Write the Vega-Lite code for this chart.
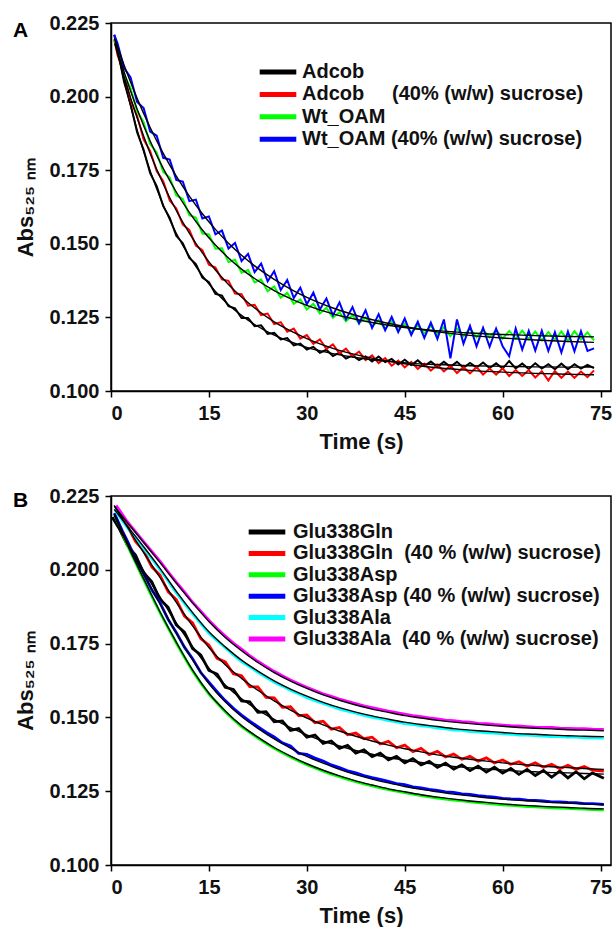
{
"$schema": "https://vega.github.io/schema/vega-lite/v6.json",
"padding": {"left": 12, "top": 12, "right": 0, "bottom": 0},
"config": {
 "font": "Liberation Sans",
 "view": {"stroke": "#000", "strokeWidth": 1.5},
 "axis": {"labelFont": "Liberation Sans", "labelFontSize": 20, "labelFontWeight": "bold", "labelColor": "#111", "titleFont": "Liberation Sans", "titleFontSize": 22, "titleFontWeight": "bold", "titleColor": "#111", "domainColor": "#000", "domainWidth": 1.5, "tickColor": "#000", "tickWidth": 1.5, "tickSize": 6, "grid": false},
 "axisX": {"labelPadding": 6, "titlePadding": 8},
 "axisY": {"labelPadding": 6, "titlePadding": 11},
 "legend": {"orient": "none", "symbolType": "stroke", "symbolStrokeWidth": 5, "symbolSize": 1340, "labelFont": "Liberation Sans", "labelFontSize": 20, "labelFontWeight": "bold", "labelColor": "#111", "clipHeight": 20, "labelLimit": 500, "labelOffset": 3}
},
"resolve": {"scale": {"color": "independent"}, "legend": {"color": "independent"}},
"spacing": 32,
"datasets": {
 "aTrace": [
  {"s":"a","t":0.5,"v":0.221},{"s":"a","t":1,"v":0.2161},{"s":"a","t":2,"v":0.2050},{"s":"a","t":3,"v":0.1974},{"s":"a","t":4,"v":0.1879},{"s":"a","t":5,"v":0.1819},{"s":"a","t":6,"v":0.1740},{"s":"a","t":7,"v":0.1696},{"s":"a","t":8,"v":0.1628},{"s":"a","t":9,"v":0.1588},{"s":"a","t":10,"v":0.1527},{"s":"a","t":11,"v":0.1502},{"s":"a","t":12,"v":0.1452},{"s":"a","t":13,"v":0.1431},{"s":"a","t":14,"v":0.1385},{"s":"a","t":15,"v":0.1370},{"s":"a","t":16,"v":0.1330},{"s":"a","t":17,"v":0.1324},{"s":"a","t":18,"v":0.1288},{"s":"a","t":19,"v":0.1281},{"s":"a","t":20,"v":0.1248},{"s":"a","t":21,"v":0.1248},{"s":"a","t":22,"v":0.1220},{"s":"a","t":23,"v":0.1223},{"s":"a","t":24,"v":0.1194},{"s":"a","t":25,"v":0.1198},{"s":"a","t":26,"v":0.1175},{"s":"a","t":27,"v":0.1180},{"s":"a","t":28,"v":0.1155},{"s":"a","t":29,"v":0.1161},{"s":"a","t":30,"v":0.1141},{"s":"a","t":31,"v":0.1150},{"s":"a","t":32,"v":0.1130},{"s":"a","t":33,"v":0.1140},{"s":"a","t":34,"v":0.1119},{"s":"a","t":35,"v":0.1130},{"s":"a","t":36,"v":0.1110},{"s":"a","t":37,"v":0.1121},{"s":"a","t":38,"v":0.1105},{"s":"a","t":39,"v":0.1117},{"s":"a","t":40,"v":0.1100},{"s":"a","t":41,"v":0.1117},{"s":"a","t":42,"v":0.1098},{"s":"a","t":43,"v":0.1109},{"s":"a","t":44,"v":0.1090},{"s":"a","t":45,"v":0.1106},{"s":"a","t":46,"v":0.1088},{"s":"a","t":47,"v":0.1104},{"s":"a","t":48,"v":0.1085},{"s":"a","t":49,"v":0.1100},{"s":"a","t":50,"v":0.1082},{"s":"a","t":51,"v":0.1099},{"s":"a","t":52,"v":0.1082},{"s":"a","t":53,"v":0.1099},{"s":"a","t":54,"v":0.1079},{"s":"a","t":55,"v":0.1095},{"s":"a","t":56,"v":0.1080},{"s":"a","t":57,"v":0.1097},{"s":"a","t":58,"v":0.1078},{"s":"a","t":59,"v":0.1094},{"s":"a","t":60,"v":0.1076},{"s":"a","t":61,"v":0.1102},{"s":"a","t":62,"v":0.1077},{"s":"a","t":63,"v":0.1093},{"s":"a","t":64,"v":0.1075},{"s":"a","t":65,"v":0.1094},{"s":"a","t":66,"v":0.1076},{"s":"a","t":67,"v":0.1091},{"s":"a","t":68,"v":0.1074},{"s":"a","t":69,"v":0.1093},{"s":"a","t":70,"v":0.1074},{"s":"a","t":71,"v":0.1091},{"s":"a","t":72,"v":0.1076},{"s":"a","t":73,"v":0.1089},{"s":"a","t":74,"v":0.1078},
  {"s":"b","t":0.5,"v":0.2195},{"s":"b","t":1,"v":0.2141},{"s":"b","t":2,"v":0.2077},{"s":"b","t":3,"v":0.1987},{"s":"b","t":4,"v":0.1935},{"s":"b","t":5,"v":0.1855},{"s":"b","t":6,"v":0.1815},{"s":"b","t":7,"v":0.1747},{"s":"b","t":8,"v":0.1713},{"s":"b","t":9,"v":0.1647},{"s":"b","t":10,"v":0.1620},{"s":"b","t":11,"v":0.1565},{"s":"b","t":12,"v":0.1547},{"s":"b","t":13,"v":0.1494},{"s":"b","t":14,"v":0.1478},{"s":"b","t":15,"v":0.1429},{"s":"b","t":16,"v":0.1419},{"s":"b","t":17,"v":0.1379},{"s":"b","t":18,"v":0.1374},{"s":"b","t":19,"v":0.1331},{"s":"b","t":20,"v":0.1329},{"s":"b","t":21,"v":0.1290},{"s":"b","t":22,"v":0.1293},{"s":"b","t":23,"v":0.1258},{"s":"b","t":24,"v":0.1263},{"s":"b","t":25,"v":0.1227},{"s":"b","t":26,"v":0.1234},{"s":"b","t":27,"v":0.1201},{"s":"b","t":28,"v":0.1212},{"s":"b","t":29,"v":0.1178},{"s":"b","t":30,"v":0.1190},{"s":"b","t":31,"v":0.1160},{"s":"b","t":32,"v":0.1175},{"s":"b","t":33,"v":0.1143},{"s":"b","t":34,"v":0.1158},{"s":"b","t":35,"v":0.1128},{"s":"b","t":36,"v":0.1144},{"s":"b","t":37,"v":0.1117},{"s":"b","t":38,"v":0.1134},{"s":"b","t":39,"v":0.1105},{"s":"b","t":40,"v":0.1121},{"s":"b","t":41,"v":0.1095},{"s":"b","t":42,"v":0.1112},{"s":"b","t":43,"v":0.1086},{"s":"b","t":44,"v":0.1103},{"s":"b","t":45,"v":0.1080},{"s":"b","t":46,"v":0.1099},{"s":"b","t":47,"v":0.1075},{"s":"b","t":48,"v":0.1093},{"s":"b","t":49,"v":0.1069},{"s":"b","t":50,"v":0.1089},{"s":"b","t":51,"v":0.1067},{"s":"b","t":52,"v":0.1086},{"s":"b","t":53,"v":0.1061},{"s":"b","t":54,"v":0.1081},{"s":"b","t":55,"v":0.1060},{"s":"b","t":56,"v":0.1081},{"s":"b","t":57,"v":0.1056},{"s":"b","t":58,"v":0.1076},{"s":"b","t":59,"v":0.1056},{"s":"b","t":60,"v":0.1077},{"s":"b","t":61,"v":0.1051},{"s":"b","t":62,"v":0.1071},{"s":"b","t":63,"v":0.1051},{"s":"b","t":64,"v":0.1071},{"s":"b","t":65,"v":0.1046},{"s":"b","t":66,"v":0.1067},{"s":"b","t":67,"v":0.1036},{"s":"b","t":68,"v":0.1068},{"s":"b","t":69,"v":0.1045},{"s":"b","t":70,"v":0.1066},{"s":"b","t":71,"v":0.1045},{"s":"b","t":72,"v":0.1066},{"s":"b","t":73,"v":0.1047},{"s":"b","t":74,"v":0.1070},
  {"s":"c","t":0.5,"v":0.2190},{"s":"c","t":1,"v":0.2160},{"s":"c","t":2,"v":0.2075},{"s":"c","t":3,"v":0.2028},{"s":"c","t":4,"v":0.1950},{"s":"c","t":5,"v":0.1913},{"s":"c","t":6,"v":0.1839},{"s":"c","t":7,"v":0.1810},{"s":"c","t":8,"v":0.1744},{"s":"c","t":9,"v":0.1725},{"s":"c","t":10,"v":0.1665},{"s":"c","t":11,"v":0.1652},{"s":"c","t":12,"v":0.1597},{"s":"c","t":13,"v":0.1589},{"s":"c","t":14,"v":0.1535},{"s":"c","t":15,"v":0.1532},{"s":"c","t":16,"v":0.1483},{"s":"c","t":17,"v":0.1485},{"s":"c","t":18,"v":0.1438},{"s":"c","t":19,"v":0.1446},{"s":"c","t":20,"v":0.1402},{"s":"c","t":21,"v":0.1411},{"s":"c","t":22,"v":0.1369},{"s":"c","t":23,"v":0.1379},{"s":"c","t":24,"v":0.1339},{"s":"c","t":25,"v":0.1355},{"s":"c","t":26,"v":0.1317},{"s":"c","t":27,"v":0.1334},{"s":"c","t":28,"v":0.1296},{"s":"c","t":29,"v":0.1311},{"s":"c","t":30,"v":0.1277},{"s":"c","t":31,"v":0.1296},{"s":"c","t":32,"v":0.1263},{"s":"c","t":33,"v":0.1283},{"s":"c","t":34,"v":0.1249},{"s":"c","t":35,"v":0.1268},{"s":"c","t":36,"v":0.1237},{"s":"c","t":37,"v":0.1258},{"s":"c","t":38,"v":0.1230},{"s":"c","t":39,"v":0.1250},{"s":"c","t":40,"v":0.1219},{"s":"c","t":41,"v":0.1240},{"s":"c","t":42,"v":0.1211},{"s":"c","t":43,"v":0.1237},{"s":"c","t":44,"v":0.1207},{"s":"c","t":45,"v":0.1229},{"s":"c","t":46,"v":0.1199},{"s":"c","t":47,"v":0.1223},{"s":"c","t":48,"v":0.1196},{"s":"c","t":49,"v":0.1222},{"s":"c","t":50,"v":0.1193},{"s":"c","t":51,"v":0.1217},{"s":"c","t":52,"v":0.1186},{"s":"c","t":53,"v":0.1212},{"s":"c","t":54,"v":0.1186},{"s":"c","t":55,"v":0.1213},{"s":"c","t":56,"v":0.1183},{"s":"c","t":57,"v":0.1209},{"s":"c","t":58,"v":0.1182},{"s":"c","t":59,"v":0.1208},{"s":"c","t":60,"v":0.1178},{"s":"c","t":61,"v":0.1204},{"s":"c","t":62,"v":0.1178},{"s":"c","t":63,"v":0.1205},{"s":"c","t":64,"v":0.1176},{"s":"c","t":65,"v":0.1202},{"s":"c","t":66,"v":0.1172},{"s":"c","t":67,"v":0.1200},{"s":"c","t":68,"v":0.1174},{"s":"c","t":69,"v":0.1202},{"s":"c","t":70,"v":0.1171},{"s":"c","t":71,"v":0.1203},{"s":"c","t":72,"v":0.1175},{"s":"c","t":73,"v":0.1199},{"s":"c","t":74,"v":0.1172},
  {"s":"d","t":0.5,"v":0.2210},{"s":"d","t":1,"v":0.2181},{"s":"d","t":2,"v":0.2097},{"s":"d","t":3,"v":0.2065},{"s":"d","t":4,"v":0.1982},{"s":"d","t":5,"v":0.1961},{"s":"d","t":6,"v":0.1881},{"s":"d","t":7,"v":0.1867},{"s":"d","t":8,"v":0.1792},{"s":"d","t":9,"v":0.1786},{"s":"d","t":10,"v":0.1717},{"s":"d","t":11,"v":0.1711},{"s":"d","t":12,"v":0.1645},{"s":"d","t":13,"v":0.1650},{"s":"d","t":14,"v":0.1586},{"s":"d","t":15,"v":0.1593},{"s":"d","t":16,"v":0.1532},{"s":"d","t":17,"v":0.1545},{"s":"d","t":18,"v":0.1484},{"s":"d","t":19,"v":0.1503},{"s":"d","t":20,"v":0.1441},{"s":"d","t":21,"v":0.1466},{"s":"d","t":22,"v":0.1404},{"s":"d","t":23,"v":0.1433},{"s":"d","t":24,"v":0.1373},{"s":"d","t":25,"v":0.1407},{"s":"d","t":26,"v":0.1343},{"s":"d","t":27,"v":0.1377},{"s":"d","t":28,"v":0.1316},{"s":"d","t":29,"v":0.1351},{"s":"d","t":30,"v":0.1295},{"s":"d","t":31,"v":0.1334},{"s":"d","t":32,"v":0.1277},{"s":"d","t":33,"v":0.1314},{"s":"d","t":34,"v":0.1257},{"s":"d","t":35,"v":0.1301},{"s":"d","t":36,"v":0.1244},{"s":"d","t":37,"v":0.1285},{"s":"d","t":38,"v":0.1230},{"s":"d","t":39,"v":0.1274},{"s":"d","t":40,"v":0.1214},{"s":"d","t":41,"v":0.1261},{"s":"d","t":42,"v":0.1206},{"s":"d","t":43,"v":0.1252},{"s":"d","t":44,"v":0.1200},{"s":"d","t":45,"v":0.1246},{"s":"d","t":46,"v":0.1190},{"s":"d","t":47,"v":0.1235},{"s":"d","t":48,"v":0.1180},{"s":"d","t":49,"v":0.1232},{"s":"d","t":50,"v":0.1177},{"s":"d","t":51,"v":0.1243},{"s":"d","t":52,"v":0.1111},{"s":"d","t":53,"v":0.1243},{"s":"d","t":54,"v":0.1161},{"s":"d","t":55,"v":0.1221},{"s":"d","t":56,"v":0.1152},{"s":"d","t":57,"v":0.1215},{"s":"d","t":58,"v":0.1150},{"s":"d","t":59,"v":0.1212},{"s":"d","t":60,"v":0.1152},{"s":"d","t":61,"v":0.1118},{"s":"d","t":62,"v":0.1212},{"s":"d","t":63,"v":0.1141},{"s":"d","t":64,"v":0.1204},{"s":"d","t":65,"v":0.1137},{"s":"d","t":66,"v":0.1205},{"s":"d","t":67,"v":0.1136},{"s":"d","t":68,"v":0.1200},{"s":"d","t":69,"v":0.1131},{"s":"d","t":70,"v":0.1202},{"s":"d","t":71,"v":0.1135},{"s":"d","t":72,"v":0.1203},{"s":"d","t":73,"v":0.1136},{"s":"d","t":74,"v":0.1145}
 ],
 "aFit": [
  {"s":"a","t":0.6,"v":0.2195},{"s":"a","t":2,"v":0.2056},{"s":"a","t":4,"v":0.1887},{"s":"a","t":6,"v":0.1747},{"s":"a","t":8,"v":0.1632},{"s":"a","t":10,"v":0.1536},{"s":"a","t":12,"v":0.1457},{"s":"a","t":14,"v":0.1392},{"s":"a","t":16,"v":0.1338},{"s":"a","t":18,"v":0.1293},{"s":"a","t":20,"v":0.1257},{"s":"a","t":22,"v":0.1226},{"s":"a","t":25,"v":0.1190},{"s":"a","t":28,"v":0.1163},{"s":"a","t":30,"v":0.1148},{"s":"a","t":34,"v":0.1127},{"s":"a","t":38,"v":0.1112},{"s":"a","t":42,"v":0.1102},{"s":"a","t":46,"v":0.1094},{"s":"a","t":50,"v":0.1090},{"s":"a","t":55,"v":0.1086},{"s":"a","t":60,"v":0.1084},{"s":"a","t":65,"v":0.1082},{"s":"a","t":70,"v":0.1081},{"s":"a","t":74,"v":0.1081},
  {"s":"b","t":0.6,"v":0.2179},{"s":"b","t":2,"v":0.2068},{"s":"b","t":4,"v":0.1928},{"s":"b","t":6,"v":0.1807},{"s":"b","t":8,"v":0.1703},{"s":"b","t":10,"v":0.1613},{"s":"b","t":12,"v":0.1536},{"s":"b","t":14,"v":0.1469},{"s":"b","t":16,"v":0.1411},{"s":"b","t":18,"v":0.1362},{"s":"b","t":20,"v":0.1319},{"s":"b","t":22,"v":0.1282},{"s":"b","t":25,"v":0.1235},{"s":"b","t":28,"v":0.1199},{"s":"b","t":30,"v":0.1178},{"s":"b","t":34,"v":0.1145},{"s":"b","t":38,"v":0.1121},{"s":"b","t":42,"v":0.1103},{"s":"b","t":46,"v":0.1089},{"s":"b","t":50,"v":0.1079},{"s":"b","t":55,"v":0.1070},{"s":"b","t":60,"v":0.1064},{"s":"b","t":65,"v":0.1060},{"s":"b","t":70,"v":0.1057},{"s":"b","t":74,"v":0.1055},
  {"s":"c","t":0.6,"v":0.2184},{"s":"c","t":2,"v":0.2084},{"s":"c","t":4,"v":0.1958},{"s":"c","t":6,"v":0.1849},{"s":"c","t":8,"v":0.1756},{"s":"c","t":10,"v":0.1676},{"s":"c","t":12,"v":0.1607},{"s":"c","t":14,"v":0.1547},{"s":"c","t":16,"v":0.1496},{"s":"c","t":18,"v":0.1452},{"s":"c","t":20,"v":0.1414},{"s":"c","t":22,"v":0.1382},{"s":"c","t":25,"v":0.1341},{"s":"c","t":28,"v":0.1309},{"s":"c","t":30,"v":0.1291},{"s":"c","t":34,"v":0.1262},{"s":"c","t":38,"v":0.1241},{"s":"c","t":42,"v":0.1225},{"s":"c","t":46,"v":0.1213},{"s":"c","t":50,"v":0.1205},{"s":"c","t":55,"v":0.1197},{"s":"c","t":60,"v":0.1192},{"s":"c","t":65,"v":0.1188},{"s":"c","t":70,"v":0.1185},{"s":"c","t":74,"v":0.1184},
  {"s":"d","t":0.6,"v":0.2195},{"s":"d","t":2,"v":0.2107},{"s":"d","t":4,"v":0.1994},{"s":"d","t":6,"v":0.1895},{"s":"d","t":8,"v":0.1807},{"s":"d","t":10,"v":0.1730},{"s":"d","t":12,"v":0.1662},{"s":"d","t":14,"v":0.1602},{"s":"d","t":16,"v":0.1549},{"s":"d","t":18,"v":0.1502},{"s":"d","t":20,"v":0.1461},{"s":"d","t":22,"v":0.1425},{"s":"d","t":25,"v":0.1379},{"s":"d","t":28,"v":0.1340},{"s":"d","t":30,"v":0.1318},{"s":"d","t":34,"v":0.1282},{"s":"d","t":38,"v":0.1254},{"s":"d","t":42,"v":0.1232},{"s":"d","t":46,"v":0.1215},{"s":"d","t":50,"v":0.1201},{"s":"d","t":55,"v":0.1189},{"s":"d","t":60,"v":0.1180},{"s":"d","t":65,"v":0.1173},{"s":"d","t":70,"v":0.1168},{"s":"d","t":74,"v":0.1165}
 ],
 "bTrace": [
  {"s":"a","t":0.2,"v":0.2178},{"s":"a","t":1.25,"v":0.2140},{"s":"a","t":2.5,"v":0.2083},{"s":"a","t":3.75,"v":0.2050},{"s":"a","t":5,"v":0.1990},{"s":"a","t":6.25,"v":0.1959},{"s":"a","t":7.5,"v":0.1900},{"s":"a","t":8.75,"v":0.1873},{"s":"a","t":10,"v":0.1813},{"s":"a","t":11.25,"v":0.1789},{"s":"a","t":12.5,"v":0.1733},{"s":"a","t":13.75,"v":0.1712},{"s":"a","t":15,"v":0.1659},{"s":"a","t":16.25,"v":0.1647},{"s":"a","t":17.5,"v":0.1602},{"s":"a","t":18.75,"v":0.1595},{"s":"a","t":20,"v":0.1556},{"s":"a","t":21.25,"v":0.1553},{"s":"a","t":22.5,"v":0.1517},{"s":"a","t":23.75,"v":0.1519},{"s":"a","t":25,"v":0.1485},{"s":"a","t":26.25,"v":0.1488},{"s":"a","t":27.5,"v":0.1456},{"s":"a","t":28.75,"v":0.1462},{"s":"a","t":30,"v":0.1433},{"s":"a","t":31.25,"v":0.1440},{"s":"a","t":32.5,"v":0.1412},{"s":"a","t":33.75,"v":0.1420},{"s":"a","t":35,"v":0.1395},{"s":"a","t":36.25,"v":0.1405},{"s":"a","t":37.5,"v":0.1379},{"s":"a","t":38.75,"v":0.1390},{"s":"a","t":40,"v":0.1367},{"s":"a","t":41.25,"v":0.1379},{"s":"a","t":42.5,"v":0.1356},{"s":"a","t":43.75,"v":0.1368},{"s":"a","t":45,"v":0.1346},{"s":"a","t":46.25,"v":0.1360},{"s":"a","t":47.5,"v":0.1339},{"s":"a","t":48.75,"v":0.1351},{"s":"a","t":50,"v":0.1331},{"s":"a","t":51.25,"v":0.1345},{"s":"a","t":52.5,"v":0.1325},{"s":"a","t":53.75,"v":0.1339},{"s":"a","t":55,"v":0.1320},{"s":"a","t":56.25,"v":0.1335},{"s":"a","t":57.5,"v":0.1315},{"s":"a","t":58.75,"v":0.1331},{"s":"a","t":60,"v":0.1311},{"s":"a","t":61.25,"v":0.1327},{"s":"a","t":62.5,"v":0.1307},{"s":"a","t":63.75,"v":0.1324},{"s":"a","t":65,"v":0.1303},{"s":"a","t":66.25,"v":0.1320},{"s":"a","t":67.5,"v":0.1297},{"s":"a","t":68.75,"v":0.1318},{"s":"a","t":70,"v":0.1295},{"s":"a","t":71.25,"v":0.1316},{"s":"a","t":72.5,"v":0.1292},{"s":"a","t":73.75,"v":0.1312},{"s":"a","t":75.5,"v":0.1294},
  {"s":"b","t":0.8,"v":0.2214},{"s":"b","t":2.5,"v":0.2150},{"s":"b","t":3.75,"v":0.2096},{"s":"b","t":5,"v":0.2065},{"s":"b","t":6.25,"v":0.2010},{"s":"b","t":7.5,"v":0.1982},{"s":"b","t":8.75,"v":0.1926},{"s":"b","t":10,"v":0.1899},{"s":"b","t":11.25,"v":0.1843},{"s":"b","t":12.5,"v":0.1820},{"s":"b","t":13.75,"v":0.1767},{"s":"b","t":15,"v":0.1745},{"s":"b","t":16.25,"v":0.1700},{"s":"b","t":17.5,"v":0.1688},{"s":"b","t":18.75,"v":0.1648},{"s":"b","t":20,"v":0.1641},{"s":"b","t":21.25,"v":0.1604},{"s":"b","t":22.5,"v":0.1603},{"s":"b","t":23.75,"v":0.1568},{"s":"b","t":25,"v":0.1566},{"s":"b","t":26.25,"v":0.1534},{"s":"b","t":27.5,"v":0.1536},{"s":"b","t":28.75,"v":0.1506},{"s":"b","t":30,"v":0.1508},{"s":"b","t":31.25,"v":0.1482},{"s":"b","t":32.5,"v":0.1487},{"s":"b","t":33.75,"v":0.1460},{"s":"b","t":35,"v":0.1466},{"s":"b","t":36.25,"v":0.1441},{"s":"b","t":37.5,"v":0.1447},{"s":"b","t":38.75,"v":0.1428},{"s":"b","t":40,"v":0.1433},{"s":"b","t":41.25,"v":0.1410},{"s":"b","t":42.5,"v":0.1419},{"s":"b","t":43.75,"v":0.1397},{"s":"b","t":45,"v":0.1406},{"s":"b","t":46.25,"v":0.1384},{"s":"b","t":47.5,"v":0.1395},{"s":"b","t":48.75,"v":0.1374},{"s":"b","t":50,"v":0.1385},{"s":"b","t":51.25,"v":0.1366},{"s":"b","t":52.5,"v":0.1376},{"s":"b","t":53.75,"v":0.1358},{"s":"b","t":55,"v":0.1368},{"s":"b","t":56.25,"v":0.1352},{"s":"b","t":57.5,"v":0.1363},{"s":"b","t":58.75,"v":0.1346},{"s":"b","t":60,"v":0.1356},{"s":"b","t":61.25,"v":0.1341},{"s":"b","t":62.5,"v":0.1350},{"s":"b","t":63.75,"v":0.1335},{"s":"b","t":65,"v":0.1346},{"s":"b","t":66.25,"v":0.1331},{"s":"b","t":67.5,"v":0.1341},{"s":"b","t":68.75,"v":0.1326},{"s":"b","t":70,"v":0.1338},{"s":"b","t":71.25,"v":0.1324},{"s":"b","t":72.5,"v":0.1334},{"s":"b","t":73.75,"v":0.1321},{"s":"b","t":75.5,"v":0.1318},
  {"s":"c","t":0.6,"v":0.2185},{"s":"c","t":2.5,"v":0.2083},{"s":"c","t":3.75,"v":0.2025},{"s":"c","t":5,"v":0.1967},{"s":"c","t":6.25,"v":0.1910},{"s":"c","t":7.5,"v":0.1855},{"s":"c","t":8.75,"v":0.1803},{"s":"c","t":10,"v":0.1752},{"s":"c","t":11.25,"v":0.1704},{"s":"c","t":12.5,"v":0.1657},{"s":"c","t":13.75,"v":0.1616},{"s":"c","t":15,"v":0.1579},{"s":"c","t":16.25,"v":0.1549},{"s":"c","t":17.5,"v":0.1519},{"s":"c","t":18.75,"v":0.1493},{"s":"c","t":20,"v":0.1469},{"s":"c","t":21.25,"v":0.1449},{"s":"c","t":22.5,"v":0.1430},{"s":"c","t":23.75,"v":0.1412},{"s":"c","t":25,"v":0.1395},{"s":"c","t":26.25,"v":0.1380},{"s":"c","t":27.5,"v":0.1366},{"s":"c","t":28.75,"v":0.1352},{"s":"c","t":30,"v":0.1340},{"s":"c","t":31.25,"v":0.1329},{"s":"c","t":32.5,"v":0.1318},{"s":"c","t":33.75,"v":0.1308},{"s":"c","t":35,"v":0.1299},{"s":"c","t":36.25,"v":0.1290},{"s":"c","t":37.5,"v":0.1282},{"s":"c","t":38.75,"v":0.1275},{"s":"c","t":40,"v":0.1268},{"s":"c","t":41.25,"v":0.1261},{"s":"c","t":42.5,"v":0.1255},{"s":"c","t":43.75,"v":0.1250},{"s":"c","t":45,"v":0.1245},{"s":"c","t":46.25,"v":0.1240},{"s":"c","t":47.5,"v":0.1235},{"s":"c","t":48.75,"v":0.1231},{"s":"c","t":50,"v":0.1227},{"s":"c","t":51.25,"v":0.1223},{"s":"c","t":52.5,"v":0.1220},{"s":"c","t":53.75,"v":0.1217},{"s":"c","t":55,"v":0.1214},{"s":"c","t":56.25,"v":0.1211},{"s":"c","t":57.5,"v":0.1209},{"s":"c","t":58.75,"v":0.1206},{"s":"c","t":60,"v":0.1204},{"s":"c","t":61.25,"v":0.1202},{"s":"c","t":62.5,"v":0.1200},{"s":"c","t":63.75,"v":0.1198},{"s":"c","t":65,"v":0.1197},{"s":"c","t":66.25,"v":0.1195},{"s":"c","t":67.5,"v":0.1194},{"s":"c","t":68.75,"v":0.1193},{"s":"c","t":70,"v":0.1192},{"s":"c","t":71.25,"v":0.1190},{"s":"c","t":72.5,"v":0.1189},{"s":"c","t":73.75,"v":0.1188},{"s":"c","t":75.5,"v":0.1187},
  {"s":"d","t":0.5,"v":0.2192},{"s":"d","t":1.75,"v":0.2131},{"s":"d","t":2.5,"v":0.2098},{"s":"d","t":3.75,"v":0.2038},{"s":"d","t":5,"v":0.1988},{"s":"d","t":6.25,"v":0.1932},{"s":"d","t":7.5,"v":0.1889},{"s":"d","t":8.75,"v":0.1832},{"s":"d","t":10,"v":0.1788},{"s":"d","t":11.25,"v":0.1738},{"s":"d","t":12.5,"v":0.1699},{"s":"d","t":13.75,"v":0.1652},{"s":"d","t":15,"v":0.1619},{"s":"d","t":16.25,"v":0.1587},{"s":"d","t":17.5,"v":0.1557},{"s":"d","t":18.75,"v":0.1531},{"s":"d","t":20,"v":0.1508},{"s":"d","t":21.25,"v":0.1487},{"s":"d","t":22.5,"v":0.1469},{"s":"d","t":23.75,"v":0.1450},{"s":"d","t":25,"v":0.1434},{"s":"d","t":26.25,"v":0.1414},{"s":"d","t":27.5,"v":0.1403},{"s":"d","t":28.75,"v":0.1378},{"s":"d","t":30,"v":0.1375},{"s":"d","t":31.25,"v":0.1362},{"s":"d","t":32.5,"v":0.1352},{"s":"d","t":33.75,"v":0.1339},{"s":"d","t":35,"v":0.1330},{"s":"d","t":36.25,"v":0.1319},{"s":"d","t":37.5,"v":0.1312},{"s":"d","t":38.75,"v":0.1303},{"s":"d","t":40,"v":0.1296},{"s":"d","t":41.25,"v":0.1290},{"s":"d","t":42.5,"v":0.1283},{"s":"d","t":43.75,"v":0.1276},{"s":"d","t":45,"v":0.1272},{"s":"d","t":46.25,"v":0.1265},{"s":"d","t":47.5,"v":0.1261},{"s":"d","t":48.75,"v":0.1256},{"s":"d","t":50,"v":0.1253},{"s":"d","t":51.25,"v":0.1248},{"s":"d","t":52.5,"v":0.1246},{"s":"d","t":53.75,"v":0.1241},{"s":"d","t":55,"v":0.1239},{"s":"d","t":56.25,"v":0.1235},{"s":"d","t":57.5,"v":0.1232},{"s":"d","t":58.75,"v":0.1230},{"s":"d","t":60,"v":0.1226},{"s":"d","t":61.25,"v":0.1224},{"s":"d","t":62.5,"v":0.1223},{"s":"d","t":63.75,"v":0.1220},{"s":"d","t":65,"v":0.1219},{"s":"d","t":66.25,"v":0.1217},{"s":"d","t":67.5,"v":0.1214},{"s":"d","t":68.75,"v":0.1214},{"s":"d","t":70,"v":0.1212},{"s":"d","t":71.25,"v":0.1211},{"s":"d","t":72.5,"v":0.1208},{"s":"d","t":73.75,"v":0.1208},{"s":"d","t":75.5,"v":0.1205},
  {"s":"e","t":0.6,"v":0.2203},{"s":"e","t":2.5,"v":0.2143},{"s":"e","t":3.75,"v":0.2110},{"s":"e","t":5,"v":0.2073},{"s":"e","t":6.25,"v":0.2038},{"s":"e","t":7.5,"v":0.2000},{"s":"e","t":8.75,"v":0.1962},{"s":"e","t":10,"v":0.1922},{"s":"e","t":11.25,"v":0.1886},{"s":"e","t":12.5,"v":0.1851},{"s":"e","t":13.75,"v":0.1818},{"s":"e","t":15,"v":0.1785},{"s":"e","t":16.25,"v":0.1760},{"s":"e","t":17.5,"v":0.1736},{"s":"e","t":18.75,"v":0.1712},{"s":"e","t":20,"v":0.1689},{"s":"e","t":21.25,"v":0.1671},{"s":"e","t":22.5,"v":0.1653},{"s":"e","t":23.75,"v":0.1636},{"s":"e","t":25,"v":0.1619},{"s":"e","t":26.25,"v":0.1606},{"s":"e","t":27.5,"v":0.1591},{"s":"e","t":28.75,"v":0.1580},{"s":"e","t":30,"v":0.1567},{"s":"e","t":31.25,"v":0.1557},{"s":"e","t":32.5,"v":0.1547},{"s":"e","t":33.75,"v":0.1538},{"s":"e","t":35,"v":0.1528},{"s":"e","t":36.25,"v":0.1521},{"s":"e","t":37.5,"v":0.1514},{"s":"e","t":38.75,"v":0.1507},{"s":"e","t":40,"v":0.1500},{"s":"e","t":41.25,"v":0.1496},{"s":"e","t":42.5,"v":0.1489},{"s":"e","t":43.75,"v":0.1485},{"s":"e","t":45,"v":0.1479},{"s":"e","t":46.25,"v":0.1476},{"s":"e","t":47.5,"v":0.1471},{"s":"e","t":48.75,"v":0.1469},{"s":"e","t":50,"v":0.1464},{"s":"e","t":51.25,"v":0.1461},{"s":"e","t":52.5,"v":0.1457},{"s":"e","t":53.75,"v":0.1456},{"s":"e","t":55,"v":0.1452},{"s":"e","t":56.25,"v":0.1451},{"s":"e","t":57.5,"v":0.1448},{"s":"e","t":58.75,"v":0.1447},{"s":"e","t":60,"v":0.1444},{"s":"e","t":61.25,"v":0.1443},{"s":"e","t":62.5,"v":0.1440},{"s":"e","t":63.75,"v":0.1440},{"s":"e","t":65,"v":0.1438},{"s":"e","t":66.25,"v":0.1437},{"s":"e","t":67.5,"v":0.1435},{"s":"e","t":68.75,"v":0.1435},{"s":"e","t":70,"v":0.1433},{"s":"e","t":71.25,"v":0.1433},{"s":"e","t":72.5,"v":0.1431},{"s":"e","t":73.75,"v":0.1431},{"s":"e","t":75.5,"v":0.1430},
  {"s":"f","t":0.8,"v":0.2218},{"s":"f","t":2.5,"v":0.2163},{"s":"f","t":3.75,"v":0.2129},{"s":"f","t":5,"v":0.2095},{"s":"f","t":6.25,"v":0.2062},{"s":"f","t":7.5,"v":0.2029},{"s":"f","t":8.75,"v":0.1993},{"s":"f","t":10,"v":0.1958},{"s":"f","t":11.25,"v":0.1925},{"s":"f","t":12.5,"v":0.1890},{"s":"f","t":13.75,"v":0.1860},{"s":"f","t":15,"v":0.1829},{"s":"f","t":16.25,"v":0.1801},{"s":"f","t":17.5,"v":0.1776},{"s":"f","t":18.75,"v":0.1752},{"s":"f","t":20,"v":0.1731},{"s":"f","t":21.25,"v":0.1709},{"s":"f","t":22.5,"v":0.1690},{"s":"f","t":23.75,"v":0.1673},{"s":"f","t":25,"v":0.1656},{"s":"f","t":26.25,"v":0.1641},{"s":"f","t":27.5,"v":0.1627},{"s":"f","t":28.75,"v":0.1614},{"s":"f","t":30,"v":0.1602},{"s":"f","t":31.25,"v":0.1591},{"s":"f","t":32.5,"v":0.1580},{"s":"f","t":33.75,"v":0.1571},{"s":"f","t":35,"v":0.1562},{"s":"f","t":36.25,"v":0.1554},{"s":"f","t":37.5,"v":0.1547},{"s":"f","t":38.75,"v":0.1539},{"s":"f","t":40,"v":0.1533},{"s":"f","t":41.25,"v":0.1527},{"s":"f","t":42.5,"v":0.1521},{"s":"f","t":43.75,"v":0.1516},{"s":"f","t":45,"v":0.1511},{"s":"f","t":46.25,"v":0.1506},{"s":"f","t":47.5,"v":0.1503},{"s":"f","t":48.75,"v":0.1498},{"s":"f","t":50,"v":0.1495},{"s":"f","t":51.25,"v":0.1491},{"s":"f","t":52.5,"v":0.1489},{"s":"f","t":53.75,"v":0.1486},{"s":"f","t":55,"v":0.1484},{"s":"f","t":56.25,"v":0.1480},{"s":"f","t":57.5,"v":0.1479},{"s":"f","t":58.75,"v":0.1476},{"s":"f","t":60,"v":0.1474},{"s":"f","t":61.25,"v":0.1472},{"s":"f","t":62.5,"v":0.1471},{"s":"f","t":63.75,"v":0.1469},{"s":"f","t":65,"v":0.1467},{"s":"f","t":66.25,"v":0.1466},{"s":"f","t":67.5,"v":0.1466},{"s":"f","t":68.75,"v":0.1464},{"s":"f","t":70,"v":0.1463},{"s":"f","t":71.25,"v":0.1462},{"s":"f","t":72.5,"v":0.1462},{"s":"f","t":73.75,"v":0.1460},{"s":"f","t":75.5,"v":0.1459}
 ],
 "bFit": [
  {"s":"a","t":0.2,"v":0.2178},{"s":"a","t":2.5,"v":0.2090},{"s":"a","t":5,"v":0.1996},{"s":"a","t":7.5,"v":0.1908},{"s":"a","t":10,"v":0.1820},{"s":"a","t":12.5,"v":0.1740},{"s":"a","t":15,"v":0.1667},{"s":"a","t":17.5,"v":0.1610},{"s":"a","t":20,"v":0.1563},{"s":"a","t":22.5,"v":0.1525},{"s":"a","t":25,"v":0.1493},{"s":"a","t":27.5,"v":0.1465},{"s":"a","t":30,"v":0.1441},{"s":"a","t":32.5,"v":0.1420},{"s":"a","t":35,"v":0.1403},{"s":"a","t":37.5,"v":0.1388},{"s":"a","t":40,"v":0.1375},{"s":"a","t":42.5,"v":0.1364},{"s":"a","t":45,"v":0.1355},{"s":"a","t":47.5,"v":0.1347},{"s":"a","t":50,"v":0.1340},{"s":"a","t":52.5,"v":0.1334},{"s":"a","t":55,"v":0.1329},{"s":"a","t":57.5,"v":0.1325},{"s":"a","t":60,"v":0.1322},{"s":"a","t":62.5,"v":0.1318},{"s":"a","t":65,"v":0.1316},{"s":"a","t":67.5,"v":0.1313},{"s":"a","t":70,"v":0.1312},{"s":"a","t":72.5,"v":0.1310},{"s":"a","t":75.5,"v":0.1308},
  {"s":"b","t":0.5,"v":0.2218},{"s":"b","t":2.5,"v":0.2145},{"s":"b","t":5,"v":0.2058},{"s":"b","t":7.5,"v":0.1974},{"s":"b","t":10,"v":0.1890},{"s":"b","t":12.5,"v":0.1810},{"s":"b","t":15,"v":0.1737},{"s":"b","t":17.5,"v":0.1678},{"s":"b","t":20,"v":0.1632},{"s":"b","t":22.5,"v":0.1592},{"s":"b","t":25,"v":0.1556},{"s":"b","t":27.5,"v":0.1525},{"s":"b","t":30,"v":0.1498},{"s":"b","t":32.5,"v":0.1475},{"s":"b","t":35,"v":0.1454},{"s":"b","t":37.5,"v":0.1436},{"s":"b","t":40,"v":0.1420},{"s":"b","t":42.5,"v":0.1406},{"s":"b","t":45,"v":0.1394},{"s":"b","t":47.5,"v":0.1383},{"s":"b","t":50,"v":0.1373},{"s":"b","t":52.5,"v":0.1365},{"s":"b","t":55,"v":0.1358},{"s":"b","t":57.5,"v":0.1352},{"s":"b","t":60,"v":0.1346},{"s":"b","t":62.5,"v":0.1341},{"s":"b","t":65,"v":0.1337},{"s":"b","t":67.5,"v":0.1333},{"s":"b","t":70,"v":0.1330},{"s":"b","t":72.5,"v":0.1327},{"s":"b","t":75.5,"v":0.1324},
  {"s":"c","t":0.5,"v":0.2185},{"s":"c","t":2.5,"v":0.2085},{"s":"c","t":5,"v":0.1970},{"s":"c","t":7.5,"v":0.1858},{"s":"c","t":10,"v":0.1755},{"s":"c","t":12.5,"v":0.1660},{"s":"c","t":15,"v":0.1582},{"s":"c","t":17.5,"v":0.1522},{"s":"c","t":20,"v":0.1472},{"s":"c","t":22.5,"v":0.1433},{"s":"c","t":25,"v":0.1398},{"s":"c","t":27.5,"v":0.1369},{"s":"c","t":30,"v":0.1343},{"s":"c","t":32.5,"v":0.1321},{"s":"c","t":35,"v":0.1302},{"s":"c","t":37.5,"v":0.1285},{"s":"c","t":40,"v":0.1271},{"s":"c","t":42.5,"v":0.1258},{"s":"c","t":45,"v":0.1248},{"s":"c","t":47.5,"v":0.1238},{"s":"c","t":50,"v":0.1230},{"s":"c","t":52.5,"v":0.1223},{"s":"c","t":55,"v":0.1217},{"s":"c","t":57.5,"v":0.1212},{"s":"c","t":60,"v":0.1207},{"s":"c","t":62.5,"v":0.1203},{"s":"c","t":65,"v":0.1200},{"s":"c","t":67.5,"v":0.1197},{"s":"c","t":70,"v":0.1195},{"s":"c","t":72.5,"v":0.1192},{"s":"c","t":75.5,"v":0.1190},
  {"s":"d","t":0.5,"v":0.2190},{"s":"d","t":2.5,"v":0.2095},{"s":"d","t":5,"v":0.1985},{"s":"d","t":7.5,"v":0.1885},{"s":"d","t":10,"v":0.1785},{"s":"d","t":12.5,"v":0.1695},{"s":"d","t":15,"v":0.1615},{"s":"d","t":17.5,"v":0.1553},{"s":"d","t":20,"v":0.1503},{"s":"d","t":22.5,"v":0.1463},{"s":"d","t":25,"v":0.1427},{"s":"d","t":27.5,"v":0.1396},{"s":"d","t":30,"v":0.1368},{"s":"d","t":32.5,"v":0.1345},{"s":"d","t":35,"v":0.1324},{"s":"d","t":37.5,"v":0.1306},{"s":"d","t":40,"v":0.1291},{"s":"d","t":42.5,"v":0.1278},{"s":"d","t":45,"v":0.1266},{"s":"d","t":47.5,"v":0.1256},{"s":"d","t":50,"v":0.1248},{"s":"d","t":52.5,"v":0.1240},{"s":"d","t":55,"v":0.1234},{"s":"d","t":57.5,"v":0.1228},{"s":"d","t":60,"v":0.1223},{"s":"d","t":62.5,"v":0.1219},{"s":"d","t":65,"v":0.1216},{"s":"d","t":67.5,"v":0.1212},{"s":"d","t":70,"v":0.1210},{"s":"d","t":72.5,"v":0.1207},{"s":"d","t":75.5,"v":0.1205},
  {"s":"e","t":0.5,"v":0.2205},{"s":"e","t":2.5,"v":0.2148},{"s":"e","t":5,"v":0.2078},{"s":"e","t":7.5,"v":0.2005},{"s":"e","t":10,"v":0.1927},{"s":"e","t":12.5,"v":0.1855},{"s":"e","t":15,"v":0.1790},{"s":"e","t":17.5,"v":0.1739},{"s":"e","t":20,"v":0.1694},{"s":"e","t":22.5,"v":0.1657},{"s":"e","t":25,"v":0.1624},{"s":"e","t":27.5,"v":0.1596},{"s":"e","t":30,"v":0.1572},{"s":"e","t":32.5,"v":0.1551},{"s":"e","t":35,"v":0.1533},{"s":"e","t":37.5,"v":0.1518},{"s":"e","t":40,"v":0.1505},{"s":"e","t":42.5,"v":0.1494},{"s":"e","t":45,"v":0.1484},{"s":"e","t":47.5,"v":0.1476},{"s":"e","t":50,"v":0.1469},{"s":"e","t":52.5,"v":0.1462},{"s":"e","t":55,"v":0.1457},{"s":"e","t":57.5,"v":0.1453},{"s":"e","t":60,"v":0.1449},{"s":"e","t":62.5,"v":0.1445},{"s":"e","t":65,"v":0.1443},{"s":"e","t":67.5,"v":0.1440},{"s":"e","t":70,"v":0.1438},{"s":"e","t":72.5,"v":0.1436},{"s":"e","t":75.5,"v":0.1435},
  {"s":"f","t":0.5,"v":0.2215},{"s":"f","t":2.5,"v":0.2160},{"s":"f","t":5,"v":0.2093},{"s":"f","t":7.5,"v":0.2025},{"s":"f","t":10,"v":0.1955},{"s":"f","t":12.5,"v":0.1888},{"s":"f","t":15,"v":0.1825},{"s":"f","t":17.5,"v":0.1771},{"s":"f","t":20,"v":0.1726},{"s":"f","t":22.5,"v":0.1686},{"s":"f","t":25,"v":0.1652},{"s":"f","t":27.5,"v":0.1623},{"s":"f","t":30,"v":0.1598},{"s":"f","t":32.5,"v":0.1576},{"s":"f","t":35,"v":0.1558},{"s":"f","t":37.5,"v":0.1542},{"s":"f","t":40,"v":0.1528},{"s":"f","t":42.5,"v":0.1517},{"s":"f","t":45,"v":0.1506},{"s":"f","t":47.5,"v":0.1498},{"s":"f","t":50,"v":0.1490},{"s":"f","t":52.5,"v":0.1484},{"s":"f","t":55,"v":0.1479},{"s":"f","t":57.5,"v":0.1474},{"s":"f","t":60,"v":0.1470},{"s":"f","t":62.5,"v":0.1466},{"s":"f","t":65,"v":0.1463},{"s":"f","t":67.5,"v":0.1461},{"s":"f","t":70,"v":0.1458},{"s":"f","t":72.5,"v":0.1457},{"s":"f","t":75.5,"v":0.1455}
 ],
 "labelA": [{"p": "A", "t": -15, "v": 0.225}],
 "labelB": [{"p": "B", "t": -15, "v": 0.225}]
},
"vconcat": [
 {
  "width": 500, "height": 368,
  "encoding": {
   "x": {"field": "t", "type": "quantitative", "scale": {"domain": [0, 76.6], "nice": false, "zero": false}, "axis": {"values": [0, 15, 30, 45, 60, 75], "title": "Time (s)"}},
   "y": {"field": "v", "type": "quantitative", "scale": {"domain": [0.1, 0.225], "nice": false, "zero": false}, "axis": {"values": [0.1, 0.125, 0.15, 0.175, 0.2, 0.225], "format": ".3f", "title": "Abs\u2085\u2082\u2085 \u2099\u2098"}}
  },
  "layer": [
   {"data": {"name": "aTrace"}, "mark": {"type": "line", "strokeWidth": 2}, "encoding": {"color": {"field": "s", "type": "nominal", "scale": {"domain": ["a", "b", "c", "d"], "range": ["#000000", "#ff0000", "#00ff00", "#0000ff"]}, "legend": {"title": null, "legendX": 146, "legendY": 39, "rowPadding": 2.4, "labelExpr": "datum.label == 'a' ? 'Adcob' : datum.label == 'b' ? 'Adcob\u00a0\u00a0\u00a0\u00a0\u00a0(40% (w/w) sucrose)' : datum.label == 'c' ? 'Wt_OAM' : '\u00a0Wt_OAM (40% (w/w) sucrose)'"}}}},
   {"data": {"name": "aFit"}, "mark": {"type": "line", "color": "#000000", "strokeWidth": 1.4, "interpolate": "monotone"}, "encoding": {"detail": {"field": "s", "type": "nominal"}}},
   {"data": {"name": "labelA"}, "mark": {"type": "text", "clip": false, "align": "left", "baseline": "top", "font": "Liberation Sans", "fontSize": 21, "size": 21, "fontWeight": "bold", "color": "#000", "dy": -3}, "encoding": {"text": {"field": "p", "type": "nominal"}, "size": {"value": 21}}}
  ]
 },
 {
  "width": 500, "height": 369,
  "encoding": {
   "x": {"field": "t", "type": "quantitative", "scale": {"domain": [0, 76.6], "nice": false, "zero": false}, "axis": {"values": [0, 15, 30, 45, 60, 75], "title": "Time (s)"}},
   "y": {"field": "v", "type": "quantitative", "scale": {"domain": [0.1, 0.225], "nice": false, "zero": false}, "axis": {"values": [0.1, 0.125, 0.15, 0.175, 0.2, 0.225], "format": ".3f", "title": "Abs\u2085\u2082\u2085 \u2099\u2098"}}
  },
  "layer": [
   {"data": {"name": "bTrace"}, "mark": {"type": "line", "strokeWidth": 2.8}, "encoding": {"color": {"field": "s", "type": "nominal", "scale": {"domain": ["a", "b", "c", "d", "e", "f"], "range": ["#000000", "#ff0000", "#00ff00", "#0000ff", "#00ffff", "#ff00ff"]}, "legend": {"title": null, "legendX": 135, "legendY": 26, "rowPadding": 1.4, "labelOffset": 5, "labelExpr": "datum.label == 'a' ? 'Glu338Gln' : datum.label == 'b' ? 'Glu338Gln\u00a0\u00a0(40 % (w/w) sucrose)' : datum.label == 'c' ? 'Glu338Asp' : datum.label == 'd' ? 'Glu338Asp (40 % (w/w) sucrose)' : datum.label == 'e' ? 'Glu338Ala' : 'Glu338Ala\u00a0\u00a0(40 % (w/w) sucrose)'"}}}},
   {"data": {"name": "bFit"}, "mark": {"type": "line", "color": "#000000", "strokeWidth": 1.4, "interpolate": "monotone"}, "encoding": {"detail": {"field": "s", "type": "nominal"}}},
   {"data": {"name": "labelB"}, "mark": {"type": "text", "clip": false, "align": "left", "baseline": "top", "font": "Liberation Sans", "fontSize": 21, "size": 21, "fontWeight": "bold", "color": "#000", "dy": -6}, "encoding": {"text": {"field": "p", "type": "nominal"}, "size": {"value": 21}}}
  ]
 }
]
}
